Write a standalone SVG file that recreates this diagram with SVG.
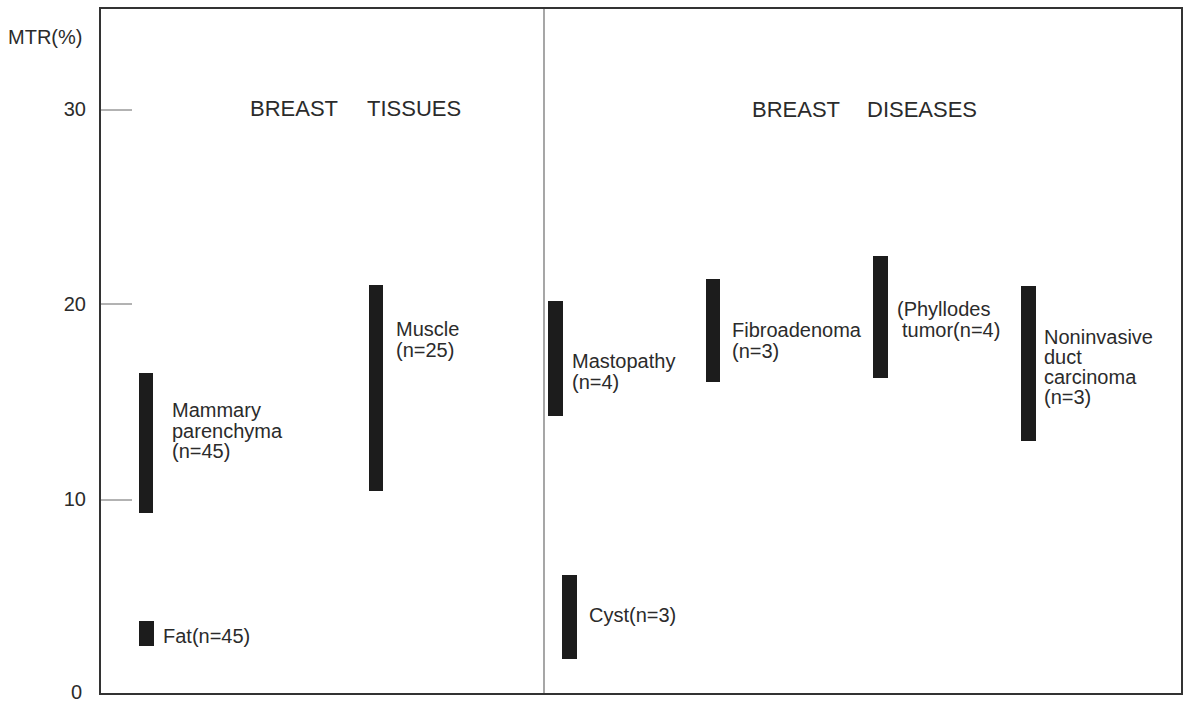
<svg xmlns="http://www.w3.org/2000/svg" width="1186" height="702" viewBox="0 0 1186 702">
<style>
text{font-family:"Liberation Sans",Arial,Helvetica,sans-serif;fill:#2b2b2b}
.lbl{font-size:20px}
.ttl{font-size:22px}
.ax{font-size:20px}
.bar{fill:#1c1c1c}
.frame{fill:none;stroke:#333;stroke-width:2}
.tick{stroke:#666;stroke-width:1}
.div{stroke:#777;stroke-width:1.3}
</style>
<rect width="1186" height="702" fill="#fff"/>
<g id="axes">
<rect class="frame" x="100" y="8" width="1082" height="686"/>
<line class="div" x1="544" y1="9" x2="544" y2="693"/>
<line class="tick" x1="101" y1="110" x2="132" y2="110"/>
<line class="tick" x1="101" y1="304" x2="132" y2="304"/>
<line class="tick" x1="101" y1="500" x2="132" y2="500"/>
<text class="ax" x="8" y="44">MTR(%)</text>
<text class="ax" x="86" y="116" text-anchor="end">30</text>
<text class="ax" x="86" y="311" text-anchor="end">20</text>
<text class="ax" x="86" y="506" text-anchor="end">10</text>
<text class="ax" x="82" y="699" text-anchor="end">0</text>
</g>
<g id="titles">
<text class="ttl" x="250" y="116">BREAST</text>
<text class="ttl" x="367" y="116">TISSUES</text>
<text class="ttl" x="752" y="117">BREAST</text>
<text class="ttl" x="867" y="117">DISEASES</text>
</g>
<g id="mammary">
<rect class="bar" x="139" y="373" width="14" height="140"/>
<text class="lbl" x="172" y="417">Mammary</text>
<text class="lbl" x="172" y="438">parenchyma</text>
<text class="lbl" x="172" y="458">(n=45)</text>
</g>
<g id="fat">
<rect class="bar" x="139" y="621" width="15" height="25"/>
<text class="lbl" x="163" y="643">Fat(n=45)</text>
</g>
<g id="muscle">
<rect class="bar" x="369" y="285" width="14" height="206"/>
<text class="lbl" x="396" y="336">Muscle</text>
<text class="lbl" x="396" y="357">(n=25)</text>
</g>
<g id="mastopathy">
<rect class="bar" x="548" y="301" width="15" height="115"/>
<text class="lbl" x="572" y="368">Mastopathy</text>
<text class="lbl" x="572" y="389">(n=4)</text>
</g>
<g id="cyst">
<rect class="bar" x="562" y="575" width="15" height="84"/>
<text class="lbl" x="589" y="622">Cyst(n=3)</text>
</g>
<g id="fibroadenoma">
<rect class="bar" x="706" y="279" width="14" height="103"/>
<text class="lbl" x="732" y="337">Fibroadenoma</text>
<text class="lbl" x="732" y="358">(n=3)</text>
</g>
<g id="phyllodes">
<rect class="bar" x="873" y="256" width="15" height="122"/>
<text class="lbl" x="897" y="316">(Phyllodes</text>
<text class="lbl" x="902" y="337">tumor(n=4)</text>
</g>
<g id="noninvasive">
<rect class="bar" x="1021" y="286" width="15" height="155"/>
<text class="lbl" x="1044" y="344">Noninvasive</text>
<text class="lbl" x="1044" y="364">duct</text>
<text class="lbl" x="1044" y="384">carcinoma</text>
<text class="lbl" x="1044" y="404">(n=3)</text>
</g>
<g id="connectors"></g>
</svg>
